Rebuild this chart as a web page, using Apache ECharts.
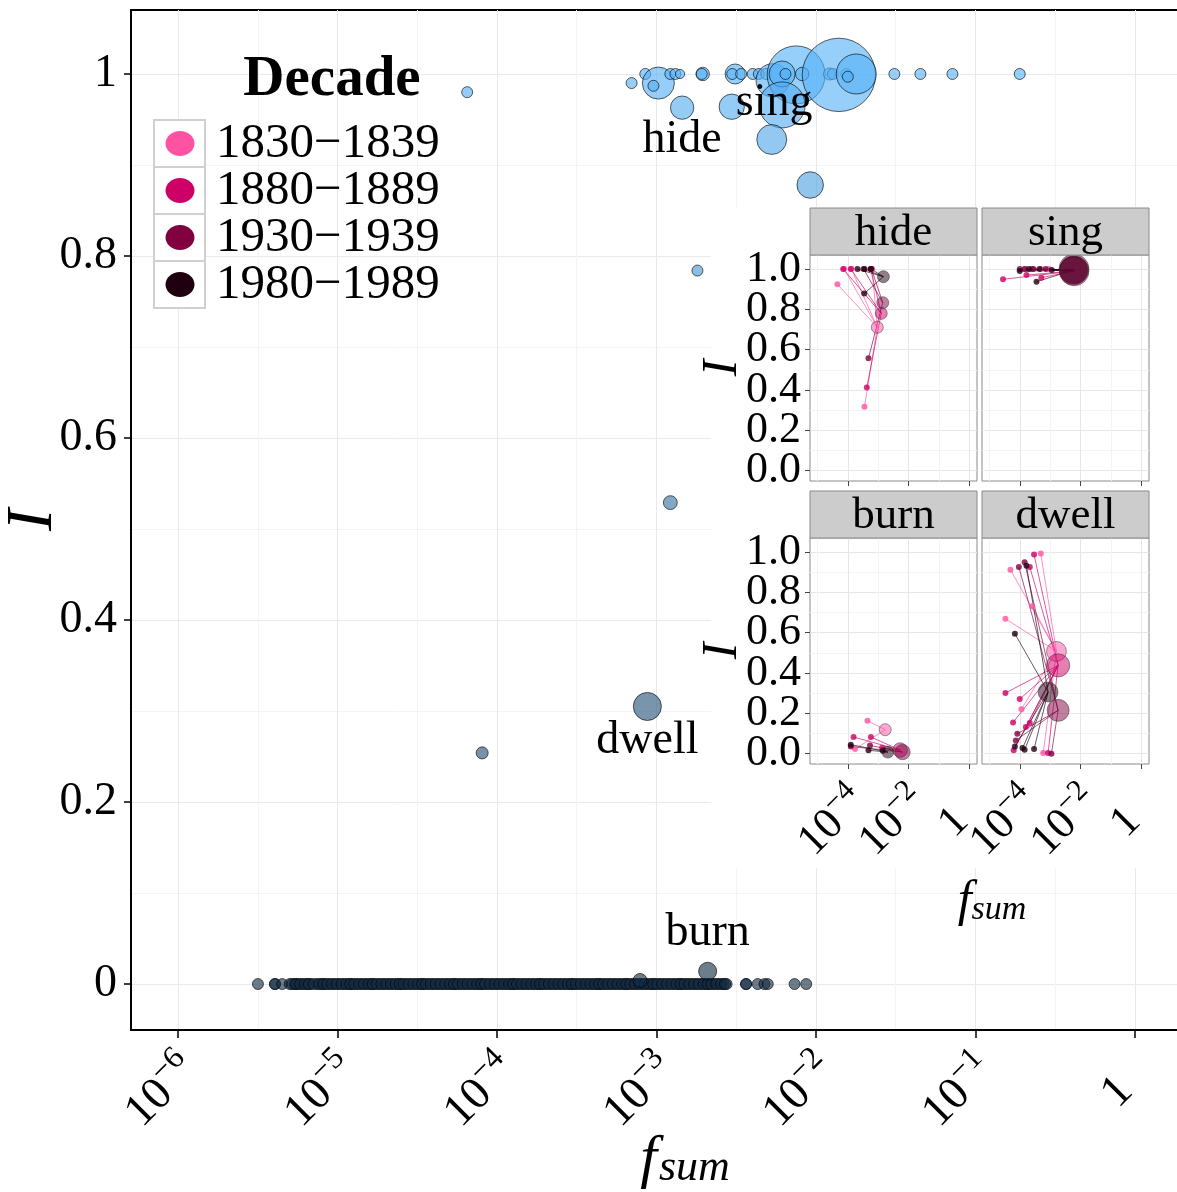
<!DOCTYPE html>
<html><head><meta charset="utf-8">
<script src="https://cdn.jsdelivr.net/npm/echarts@6/dist/echarts.min.js"></script>
<style>html,body{margin:0;padding:0;background:#fff}#c{width:1177px;height:1192px}</style>
</head><body><div id="c"></div>
<script>
// ---------------- DATA ----------------
// Main panel: points with I > 0  (log10 f_sum, I, relative size)
const top_logf = [-3.156,-3.070,-2.988,-3.019,-2.913,-2.881,-2.852,-2.839,-2.710,-2.716,-2.507,-2.525,-2.469,-2.528,-2.396,-2.358,-2.312,-2.271,-2.124,-2.212,-2.191,-2.086,-2.212,-2.277,-2.036,-1.915,-1.894,-1.810,-1.856,-1.747,-1.800,-1.508,-1.345,-1.144,-0.722,-4.187,-2.743,-2.913,-4.093,-3.057,-2.679,-3.103];
const top_I    = [0.990,1.000,0.990,0.987,1.000,1.000,1.000,0.963,1.000,1.000,1.000,1.000,1.000,0.964,1.000,1.000,1.000,0.993,0.999,1.000,1.000,1.000,0.966,0.928,0.878,1.000,1.000,1.000,0.999,1.000,0.997,1.000,1.000,1.000,1.000,0.980,0.784,0.529,0.254,0.305,0.014,0.004];
const top_n    = [1,1,8.5,1,1,1,0.7,4.5,1.5,1,3.3,1,1,5.3,1,1,1,9.2,27.8,5.6,1,1.5,17.5,7.4,5.8,1.2,1,1,44.5,13.2,1,1,1,1,1,1,1,1.6,1.2,6.5,2.7,1.6];
const top_word = ['','','','','','','','hide','','','','','','','','','','','','','','','sing','','','','','','','','','','','','','','','','','dwell','burn',''];
// Main panel: points with I = 0 (log10 f_sum)
const zero_logf = [-5.499,-5.392,-5.392,-5.347,
 -5.30,-5.27,-5.25,-5.22,-5.19,-5.17,-5.13,-5.10,-5.08,-5.05,-5.02,-4.99,-4.96,-4.93,-4.91,-4.88,-4.85,-4.82,-4.79,-4.77,
 -4.74,-4.71,-4.68,-4.65,-4.62,-4.60,-4.57,-4.54,-4.51,-4.48,-4.46,-4.43,-4.40,-4.37,-4.34,-4.31,-4.28,-4.26,-4.23,-4.20,
 -4.17,-4.14,-4.11,-4.09,-4.06,-4.03,-4.00,-3.97,-3.94,-3.91,-3.89,-3.86,-3.83,-3.80,-3.77,-3.74,-3.72,-3.69,-3.66,-3.63,
 -3.60,-3.57,-3.54,-3.52,-3.49,-3.46,-3.43,-3.40,-3.37,-3.35,-3.32,-3.29,-3.26,-3.23,-3.20,-3.18,-3.15,-3.12,-3.09,-3.06,
 -3.03,-3.01,-2.98,-2.95,-2.92,-2.89,-2.86,-2.84,-2.81,-2.78,-2.75,-2.72,-2.69,-2.67,-2.64,-2.61,-2.58,-2.56,
 -2.438,-2.438,-2.365,-2.323,-2.302,-2.134,-2.061];
const zero_logf_b = [-5.285,-5.26,-5.235,-5.205,-5.18,-5.15,-5.115,-5.09,-5.065,-5.035,-5.005,-4.975,-4.945,-4.92,-4.895,-4.865,
 -4.835,-4.805,-4.78,-4.755,-4.725,-4.695,-4.665,-4.635,-4.61,-4.585,-4.555,-4.525,-4.495,-4.47,-4.445,-4.415,-4.385,-4.355,
 -4.325,-4.295,-4.27,-4.245,-4.215,-4.185,-4.155,-4.125,-4.10,-4.075,-4.045,-4.015,-3.985,-3.955,-3.925,-3.90,-3.875,-3.845,
 -3.815,-3.785,-3.755,-3.73,-3.705,-3.675,-3.645,-3.615,-3.585,-3.555,-3.53,-3.505,-3.475,-3.445,-3.415,-3.385,-3.36,-3.335,
 -3.305,-3.275,-3.245,-3.215,-3.19,-3.165,-3.135,-3.105,-3.075,-3.045,-3.02,-2.995,-2.965,-2.935,-2.905,-2.875,-2.85,-2.825,
 -2.795,-2.765,-2.735,-2.705,-2.68,-2.655,-2.625,-2.595,-2.57];
const main_x_ticks = [-6,-5,-4,-3,-2,-1,0];
const main_x_minor = [-5.5,-4.5,-3.5,-2.5,-1.5,-0.5,0.5];
const main_y_ticks = [0,0.2,0.4,0.6,0.8,1];
const main_y_minor = [0.1,0.3,0.5,0.7,0.9];

// Inset
const decades = ['1830\u22121839','1880\u22121889','1930\u22121939','1980\u22121989'];
const decade_colors = ['#FF52A3','#CC0066','#800040','#200010'];
const panel_words = ['hide','sing','burn','dwell'];
// aggregate point per decade: [log10 f, I, size]
const hide_agg  = [[-3.03,0.711,4],[-2.90,0.780,4],[-2.85,0.833,4],[-2.83,0.962,4]];
const sing_agg  = [[-2.24,0.990,22],[-2.21,0.990,24],[-2.22,1.000,25],[-2.23,0.995,22]];
const burn_agg  = [[-2.77,0.119,4],[-2.28,0.018,6],[-2.20,0.008,6.5],[-2.685,0.008,4]];
const dwell_agg = [[-2.795,0.507,11],[-2.74,0.438,15],[-2.74,0.215,13.4],[-3.07,0.306,11]];
// individual forms: [decade index, log10 f, I]
const hide_tokens = [[0,-4.34,0.924],[0,-4.12,1.0],[0,-3.45,0.317],[0,-3.20,1.0],[0,-3.88,1.0],
 [1,-4.15,1.0],[1,-3.90,1.0],[1,-3.375,0.413],[1,-3.25,1.0],
 [2,-3.32,0.557],[2,-3.48,1.0],[2,-3.22,1.0],
 [3,-3.68,1.0],[3,-3.46,0.878],[3,-3.24,1.0],[3,-3.45,1.0]];
const sing_tokens = [[0,-3.85,1.0],[0,-3.30,1.0],[0,-3.05,1.0],
 [1,-4.55,0.949],[1,-3.78,0.970],[1,-3.29,0.957],[1,-3.60,1.0],
 [2,-4.00,1.0],[2,-3.83,1.0],[2,-3.55,1.0],[2,-3.15,1.0],
 [3,-4.00,0.990],[3,-3.45,0.937],[3,-3.70,1.0],[3,-3.35,1.0],[3,-2.95,0.995]];
const burn_tokens = [[0,-3.353,0.164],[0,-3.76,0.023],
 [1,-3.81,0.083],[1,-3.24,0.083],[1,-2.87,0.030],
 [2,-3.90,0.036],[2,-3.27,0.041],
 [3,-3.90,0.045],[3,-3.32,0.017],[3,-2.85,0.015]];
const dwell_tokens = [[0,-4.307,0.912],[0,-3.31,0.992],[0,-4.47,0.669],[0,-3.59,0.731],[0,-3.945,0.221],[0,-3.23,0.003],
 [1,-3.53,0.987],[1,-3.67,0.926],[1,-4.47,0.301],[1,-4.00,0.271],[1,-4.22,0.155],[1,-3.80,0.132],[1,-3.67,0.152],[1,-4.20,0.017],[1,-3.07,0.003],
 [2,-4.03,0.926],[2,-3.84,0.949],[2,-4.08,0.099],[2,-4.13,0.066],[2,-2.96,0.0],
 [3,-4.16,0.595],[3,-3.78,0.932],[3,-3.91,0.028],[3,-3.84,0.020],[3,-3.53,0.023],[3,-4.16,0.036]];
const inset_x_ticks = [-4,-2,0];
const inset_x_lab_a = [-4,0];
const inset_x_lab_b = [-2];
const inset_x_minor = [-5,-3,-1];
const inset_y_ticks = [0,0.2,0.4,0.6,0.8,1];
const inset_y_lab_a = [0,0.4,0.8];
const inset_y_lab_b = [0.2,0.6,1];
const inset_y_minor = [0.1,0.3,0.5,0.7,0.9];

// ---------------- CHART ----------------
const F = 'Liberation Serif';
const chart = echarts.init(document.getElementById('c'), null, {renderer:'canvas'});

function powLabel(v){
  if (Math.abs(v) < 1e-9) return '{one|1}';
  return '{b|10}{s|\u2212' + Math.round(-v) + '}';
}
function yLab(v){
  if (Math.abs(v) < 1e-9) return '0';
  if (Math.abs(v-1) < 1e-9) return '1';
  return v.toFixed(1);
}
const richMain = {
  b:{fontSize:46,fontFamily:F,color:'#000',lineHeight:60},
  s:{fontSize:32,fontFamily:F,color:'#000',lineHeight:32,verticalAlign:'top'},
  one:{fontSize:46,fontFamily:F,color:'#000',padding:[0,30,0,0]}
};
const richInset = {
  b:{fontSize:44,fontFamily:F,color:'#000',lineHeight:56},
  s:{fontSize:30,fontFamily:F,color:'#000',lineHeight:30,verticalAlign:'top'},
  one:{fontSize:44,fontFamily:F,color:'#000',padding:[0,28,0,0]}
};
const noBounds = {containLabel:false, outerBoundsMode:'none'};
const grids = [
  Object.assign({left:131, top:10, width:1108, height:1020, show:true, borderColor:'#000', borderWidth:2, backgroundColor:'transparent', z:0}, noBounds),
  Object.assign({left:810, top:255, width:167, height:226, show:true, borderColor:'#8a8a8a', borderWidth:1, backgroundColor:'#fff', z:2}, noBounds),
  Object.assign({left:982, top:255, width:167, height:226, show:true, borderColor:'#8a8a8a', borderWidth:1, backgroundColor:'#fff', z:2}, noBounds),
  Object.assign({left:810, top:538, width:167, height:226, show:true, borderColor:'#8a8a8a', borderWidth:1, backgroundColor:'#fff', z:2}, noBounds),
  Object.assign({left:982, top:538, width:167, height:226, show:true, borderColor:'#8a8a8a', borderWidth:1, backgroundColor:'#fff', z:2}, noBounds)
];
const lblCommon = {hideOverlap:false, showMinLabel:true, showMaxLabel:true};

const xAxes = [
  {type:'value', gridIndex:0, position:'bottom', min:-6.295, max:0.653, z:0,
   axisLine:{show:true,onZero:false,lineStyle:{color:'#000',width:2}},
   axisTick:{show:true,length:8,customValues:main_x_ticks,lineStyle:{color:'#000',width:1.5}},
   axisLabel:Object.assign({customValues:main_x_ticks,rotate:45,margin:21,padding:[34,0,0,0],formatter:powLabel,rich:richMain}, lblCommon),
   splitLine:{show:true,lineStyle:{color:'#e9e9e9',width:1}},
   name:'{f|f}{s|sum}', nameLocation:'middle', nameGap:100, nameMoveOverlap:false,
   nameTextStyle:{rich:{f:{fontSize:60,fontFamily:F,fontStyle:'italic',color:'#000',lineHeight:60},
                        s:{fontSize:44,fontFamily:F,fontStyle:'italic',color:'#000',verticalAlign:'bottom',lineHeight:44,padding:[0,0,0,2]}}}},
  {type:'value', gridIndex:0, position:'bottom', min:-6.295, max:0.653, z:0,
   axisLine:{show:false}, axisTick:{show:false,customValues:main_x_minor}, axisLabel:{show:false},
   splitLine:{show:true,lineStyle:{color:'#f4f4f4',width:1}}}
];
const yAxes = [
  {type:'value', gridIndex:0, position:'left', min:-0.0505, max:1.0703, z:0,
   axisLine:{show:true,onZero:false,lineStyle:{color:'#000',width:2}},
   axisTick:{show:true,length:7,customValues:main_y_ticks,lineStyle:{color:'#000',width:1.5}},
   axisLabel:Object.assign({customValues:main_y_ticks,margin:14,formatter:yLab,fontSize:46,fontFamily:F,color:'#000'}, lblCommon),
   splitLine:{show:true,lineStyle:{color:'#e9e9e9',width:1}},
   name:'I', nameLocation:'middle', nameGap:64, nameRotate:90, nameMoveOverlap:false,
   nameTextStyle:{fontSize:66,fontFamily:F,fontStyle:'italic',color:'#000'}},
  {type:'value', gridIndex:0, position:'left', min:-0.0505, max:1.0703, z:0,
   axisLine:{show:false}, axisTick:{show:false,customValues:main_y_minor}, axisLabel:{show:false},
   splitLine:{show:true,lineStyle:{color:'#f4f4f4',width:1}}}
];

const IXMIN = -5.24, IXMAX = 0.245, IYMIN = -0.051, IYMAX = 1.0694;
const insetXLabel = (vals, show) => Object.assign({show:show, customValues:vals, rotate:45, margin:19, padding:[34,0,0,0], formatter:powLabel, rich:richInset}, lblCommon);
const insetYLabel = (vals, show) => Object.assign({show:show, customValues:vals, margin:9, formatter:v=>v.toFixed(1), fontSize:44, fontFamily:F, color:'#000'}, lblCommon);
for (let p = 0; p < 4; p++) {
  const g = p + 1;
  const bottom = p >= 2, left = (p % 2) === 0;
  // major: ticks + split lines + half of labels
  xAxes.push({type:'value', gridIndex:g, position:'bottom', min:IXMIN, max:IXMAX, z:3,
    axisLine:{show:false,onZero:false},
    axisTick:{show:true,length:5,customValues:inset_x_ticks,lineStyle:{color:'#444'}},
    axisLabel:insetXLabel(inset_x_lab_a, bottom),
    splitLine:{show:true,lineStyle:{color:'#e6e6e6'}}});
  // minor split lines
  xAxes.push({type:'value', gridIndex:g, position:'bottom', min:IXMIN, max:IXMAX, z:3,
    axisLine:{show:false,onZero:false}, axisTick:{show:false,customValues:inset_x_minor}, axisLabel:{show:false},
    splitLine:{show:true,lineStyle:{color:'#f3f3f3'}}});
  // remaining labels
  xAxes.push({type:'value', gridIndex:g, position:'bottom', min:IXMIN, max:IXMAX, z:3,
    axisLine:{show:false,onZero:false}, axisTick:{show:false}, splitLine:{show:false},
    axisLabel:insetXLabel(inset_x_lab_b, bottom)});

  const ya = {type:'value', gridIndex:g, position:'left', min:IYMIN, max:IYMAX, z:3,
    axisLine:{show:false,onZero:false},
    axisTick:{show:left,length:5,customValues:inset_y_ticks,lineStyle:{color:'#444'}},
    axisLabel:insetYLabel(inset_y_lab_a, left),
    splitLine:{show:true,lineStyle:{color:'#e6e6e6'}}};
  if (left) {
    ya.name = 'I'; ya.nameLocation = 'middle'; ya.nameGap = 62; ya.nameRotate = 90; ya.nameMoveOverlap = false;
    ya.nameTextStyle = {fontSize:50,fontFamily:F,fontStyle:'italic',color:'#000'};
  }
  yAxes.push(ya);
  yAxes.push({type:'value', gridIndex:g, position:'left', min:IYMIN, max:IYMAX, z:3,
    axisLine:{show:false,onZero:false}, axisTick:{show:false,customValues:inset_y_minor}, axisLabel:{show:false},
    splitLine:{show:true,lineStyle:{color:'#f3f3f3'}}});
  yAxes.push({type:'value', gridIndex:g, position:'left', min:IYMIN, max:IYMAX, z:3,
    axisLine:{show:false,onZero:false}, axisTick:{show:false}, splitLine:{show:false},
    axisLabel:insetYLabel(inset_y_lab_b, left)});
}

// main series data
const labelOffsets = {hide:[0,32], sing:[-8,-2], dwell:[0,34], burn:[0,-38]};
const mainData = [];
zero_logf.forEach(v => mainData.push({value:[v, 0, 1]}));
zero_logf_b.forEach(v => mainData.push({value:[v, 0, 1]}));
top_logf.forEach((v, i) => {
  const item = {value:[v, top_I[i], top_n[i]]};
  const w = top_word[i];
  if (w) item.label = {show:true, formatter:w, position:'inside', offset:labelOffsets[w],
    fontSize:46, fontFamily:F, color:'#000', opacity:1};
  mainData.push(item);
});

const series = [{
  type:'scatter', xAxisIndex:0, yAxisIndex:0, z:2, data:mainData,
  symbolSize: v => 11 * Math.sqrt(v[2]),
  itemStyle:{opacity:0.62, borderColor:'#000', borderWidth:1},
  emphasis:{disabled:true}, animation:false
}];

const aggs = [hide_agg, sing_agg, burn_agg, dwell_agg];
const toks = [hide_tokens, sing_tokens, burn_tokens, dwell_tokens];
for (let p = 0; p < 4; p++) {
  const xi = 2 + 3*p, yi = 2 + 3*p;
  const agg = aggs[p], tk = toks[p];
  series.push({type:'lines', coordinateSystem:'cartesian2d', xAxisIndex:xi, yAxisIndex:yi, z:5, silent:true,
    lineStyle:{width:1, opacity:0.65},
    data: tk.map(t => ({coords:[[t[1],t[2]],[agg[t[0]][0],agg[t[0]][1]]], lineStyle:{color:decade_colors[t[0]]}}))});
  series.push({type:'scatter', xAxisIndex:xi, yAxisIndex:yi, z:6, symbolSize:6, silent:true,
    data: tk.map(t => ({value:[t[1],t[2]], itemStyle:{color:decade_colors[t[0]]}}))});
  series.push({type:'scatter', xAxisIndex:xi, yAxisIndex:yi, z:7, silent:true,
    symbolSize: v => 6 * Math.sqrt(v[2]),
    itemStyle:{opacity:0.5, borderColor:'#333', borderWidth:1},
    data: agg.map((a, d) => ({value:a, itemStyle:{color:decade_colors[d]}}))});
}

// graphic: legend, inset background, strips, inset x title
const gfx = [];
gfx.push({type:'rect', z:1, shape:{x:711, y:207, width:470, height:661}, style:{fill:'#fff'}, silent:true});
gfx.push({type:'text', z:10, x:332, y:80, style:{text:'Decade', fontSize:57, fontWeight:'bold', fontFamily:F, fill:'#000', align:'center', verticalAlign:'middle'}});
const keyTops = [120,167,214,261];
decades.forEach((d, i) => {
  gfx.push({type:'rect', z:10, shape:{x:154, y:keyTops[i], width:51, height:47}, style:{fill:'#fff', stroke:'#d0d0d0', lineWidth:2}});
  gfx.push({type:'ellipse', z:11, shape:{cx:180, cy:keyTops[i]+23.5, rx:14.5, ry:12.5}, style:{fill:decade_colors[i]}});
  gfx.push({type:'text', z:10, x:216, y:keyTops[i]+24, style:{text:d, fontSize:49, fontFamily:F, fill:'#000', align:'left', verticalAlign:'middle'}});
});
const stripPos = [[810,208],[982,208],[810,491],[982,491]];
panel_words.forEach((w, i) => {
  const [sx, sy] = stripPos[i];
  gfx.push({type:'rect', z:8, shape:{x:sx, y:sy, width:167, height:47}, style:{fill:'#CCCCCC', stroke:'#8a8a8a', lineWidth:1}});
  gfx.push({type:'text', z:9, x:sx+83.5, y:sy+25, style:{text:w, fontSize:45, fontFamily:F, fill:'#000', align:'center', verticalAlign:'middle'}});
});
gfx.push({type:'text', z:9, x:992, y:902, style:{text:'{f|f}{s|sum}', align:'center', verticalAlign:'middle',
  rich:{f:{fontSize:50,fontFamily:F,fontStyle:'italic',fill:'#000',lineHeight:50},
        s:{fontSize:34,fontFamily:F,fontStyle:'italic',fill:'#000',verticalAlign:'bottom',lineHeight:34}}}});

chart.setOption({
  animation:false,
  backgroundColor:'#fff',
  grid:grids, xAxis:xAxes, yAxis:yAxes, series:series,
  visualMap:{show:false, type:'continuous', seriesIndex:0, dimension:1, min:0, max:1,
             inRange:{color:['#132B43','#56B1F7']}},
  graphic:{elements:gfx}
});
</script></body></html>
